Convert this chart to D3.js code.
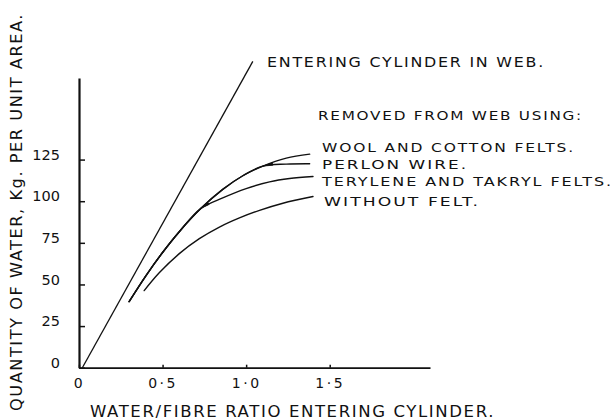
<!DOCTYPE html>
<html>
<head>
<meta charset="utf-8">
<script src="https://cdn.jsdelivr.net/npm/d3@7"></script>
<style>
  html, body { margin: 0; padding: 0; background: #fff; }
  svg { display: block; }
  text { font-family: "DejaVu Sans", sans-serif; fill: #111; }
</style>
</head>
<body>
<svg id="chart" width="616" height="420"></svg>
<script>
// Axis ticks
const xTicks = [0, 0.5, 1.0, 1.5];
const xTickLabels = ["0", "0·5", "1·0", "1·5"];
const yTicks = [0, 25, 50, 75, 100, 125];
const yTickLabels = ["0", "25", "50", "75", "100", "125"];

// Water entering the cylinder in the web: [water/fibre ratio, kg per unit area]
const enteringWeb = [[0.02, 0], [1.04, 184]];

// Water removed from the web, by felt / wire type
const woolCotton = [[0.30, 39.7], [0.40, 55.2], [0.50, 69.2], [0.60, 81.7], [0.73, 95.7],
                    [0.86, 107.1], [0.98, 115.3], [1.10, 121.1], [1.24, 125.9], [1.38, 128.3]];
const perlonWire = [[0.30, 39.7], [0.40, 55.2], [0.50, 69.2], [0.60, 81.7], [0.73, 95.7],
                    [0.86, 107.1], [0.98, 115.3], [1.10, 121.1], [1.24, 122.3], [1.38, 122.5]];
const teryleneTakryl = [[0.30, 39.7], [0.40, 55.2], [0.50, 69.2], [0.60, 81.7], [0.73, 95.7],
                        [0.86, 102.0], [1.00, 107.6], [1.14, 111.6], [1.26, 113.6], [1.40, 114.8]];
const withoutFelt = [[0.39, 46.3], [0.48, 57.0], [0.60, 68.5], [0.72, 77.5], [0.84, 84.5],
                     [0.96, 90.0], [1.08, 94.5], [1.22, 98.8], [1.40, 102.8]];

const removedSeries = [woolCotton, perlonWire, teryleneTakryl, withoutFelt];
const removedLabels = ["WOOL AND COTTON FELTS.", "PERLON WIRE.", "TERYLENE AND TAKRYL FELTS.", "WITHOUT FELT."];

const svg = d3.select("#chart");
const ink = "#111";

const x = d3.scaleLinear().domain([0, 2.1]).range([79, 430]);
const y = d3.scaleLinear().domain([0, 174]).range([367.7, 78]);

// X axis: small upward ticks, labels below
const xAxis = d3.axisBottom(x)
  .tickValues(xTicks)
  .tickFormat((d, i) => xTickLabels[i])
  .tickSize(-3)
  .tickSizeOuter(0)
  .tickPadding(10);
const gx = svg.append("g").attr("transform", `translate(0,${y(0)})`).call(xAxis);
gx.select(".domain").attr("stroke", ink).attr("stroke-width", 1.8);
gx.selectAll(".tick line").attr("stroke", ink).attr("stroke-width", 1.5);
gx.selectAll(".tick text").attr("font-size", 14).attr("fill", ink)
  .attr("letter-spacing", 2.5)
  .style("font-family", "'DejaVu Sans', sans-serif");

// Y axis: ticks point into the plot, labels on the left sitting slightly above each tick
const yAxis = d3.axisLeft(y)
  .tickValues(yTicks)
  .tickFormat((d, i) => yTickLabels[i])
  .tickSize(-6)
  .tickSizeOuter(0)
  .tickPadding(19);
const gy = svg.append("g").attr("transform", `translate(${x(0)},0)`).call(yAxis);
gy.select(".domain").attr("stroke", ink).attr("stroke-width", 2.2);
gy.selectAll(".tick line").attr("stroke", ink).attr("stroke-width", 1.5);
gy.selectAll(".tick text").attr("font-size", 14.5).attr("fill", ink)
  .attr("transform", "translate(0,-5)")
  .style("font-family", "'DejaVu Sans', sans-serif");

const line = d3.line().x(d => x(d[0])).y(d => y(d[1])).curve(d3.curveCatmullRom.alpha(0.5));

// Straight line: water entering the cylinder
svg.append("path")
  .attr("d", d3.line().x(d => x(d[0])).y(d => y(d[1]))(enteringWeb))
  .attr("fill", "none").attr("stroke", ink).attr("stroke-width", 1.3);

// Curves: water removed
svg.selectAll("path.removed")
  .data(removedSeries)
  .join("path")
  .attr("class", "removed")
  .attr("d", line)
  .attr("fill", "none").attr("stroke", ink).attr("stroke-width", 1.4)
  .attr("stroke-linecap", "round");

// Small arrowhead wedges where the curves branch apart
function wedge(split, nextA, nextB, len) {
  const p0 = [x(split[0]), y(split[1])];
  const tip = (n) => {
    const dx = x(n[0]) - p0[0], dy = y(n[1]) - p0[1];
    const m = Math.hypot(dx, dy);
    return [p0[0] + dx / m * len, p0[1] + dy / m * len];
  };
  return [p0, tip(nextA), tip(nextB)];
}
const wedges = [
  wedge(woolCotton[4], woolCotton[5], teryleneTakryl[5], 9),
  wedge(woolCotton[7], woolCotton[8], perlonWire[8], 10)
];
svg.selectAll("polygon.wedge")
  .data(wedges)
  .join("polygon")
  .attr("class", "wedge")
  .attr("points", d => d.map(p => p.join(",")).join(" "))
  .attr("fill", ink).attr("stroke", ink).attr("stroke-width", 0.8);

// Annotations: lettering stretched to the widths of the hand-drawn captions
function label(txt, x0, baseline, width, size) {
  return svg.append("text")
    .attr("x", x0).attr("y", baseline)
    .attr("font-size", size)
    .attr("letter-spacing", 1.5)
    .attr("textLength", width)
    .attr("lengthAdjust", "spacingAndGlyphs")
    .text(txt);
}
label("ENTERING CYLINDER IN WEB.", 267, 67, 278, 13.5);
label("REMOVED FROM WEB USING:", 318, 120, 265, 13);

const labelLayout = [
  { x: 322, y: 152, w: 253 },
  { x: 322, y: 169, w: 146 },
  { x: 322, y: 186, w: 291 },
  { x: 324, y: 206, w: 156 }
];
removedLabels.forEach((t, i) => label(t, labelLayout[i].x, labelLayout[i].y, labelLayout[i].w, 12.5));

// Axis titles
label("WATER/FIBRE RATIO ENTERING CYLINDER.", 90, 417, 405, 15.5);
svg.append("text")
  .attr("transform", "translate(22,411) rotate(-90)")
  .attr("font-size", 15.5)
  .attr("letter-spacing", 1.5)
  .attr("textLength", 398)
  .attr("lengthAdjust", "spacingAndGlyphs")
  .text("QUANTITY OF WATER, Kg. PER UNIT AREA.");
</script>
</body>
</html>
